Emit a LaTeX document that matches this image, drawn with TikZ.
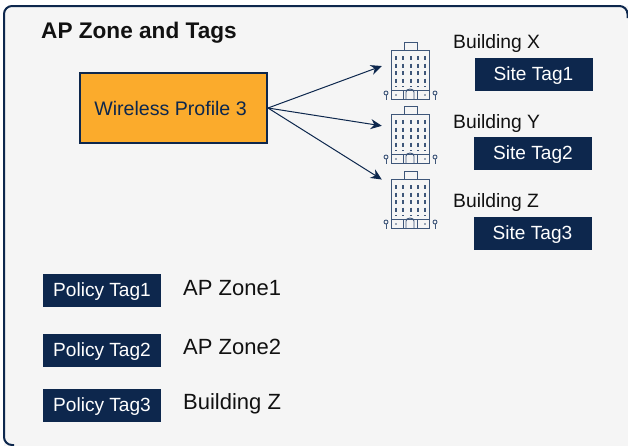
\documentclass[tikz,border=0pt]{standalone}
\usepackage{fontspec}
\setmainfont{Liberation Sans}
\usetikzlibrary{arrows.meta}
\definecolor{navy}{HTML}{0D274D}
\definecolor{icon}{HTML}{3E5679}
\definecolor{panel}{HTML}{F5F5F5}
\definecolor{amber}{HTML}{FBAB2C}
\definecolor{ink}{HTML}{111111}
\tikzset{
  x=1pt,y=-1pt,
  tagbox/.style={fill=navy,draw=none,text=white,font=\fontsize{19.1}{22}\selectfont,inner sep=0pt,anchor=center,minimum width=118pt,minimum height=33pt,text height=14pt,text depth=2pt},
  lbl/.style={text=ink,font=\fontsize{19.3}{22}\selectfont,anchor=base west,inner sep=0pt},
  zlbl/.style={text=ink,font=\fontsize{22}{25}\selectfont,anchor=base west,inner sep=0pt},
  link/.style={draw=navy,line width=1pt,-{Stealth[length=11pt,width=10pt]}},
  bldg/.style={draw=none,minimum width=56pt,minimum height=60pt,inner sep=0pt},
  bl/.style={draw=icon,line width=.9pt},
  win/.style={draw=icon,line width=1.1pt,dash pattern=on 4pt off 3.5pt},
}
\newcommand{\tower}[1]{%
  \begin{scope}[shift={(#1)}]
    \draw[bl] (-6,-29) rectangle (7,-21);
    \draw[bl] (-19,-21) rectangle (19,28);
    \draw[bl] (-19,19) -- (19,19);
    \foreach \wx in {-14,-7,1,8,15}{\draw[win] (\wx,-15) -- (\wx,16);}
    \draw[bl] (-4,28) -- (-4,21) arc[start angle=180,end angle=0,x radius=4,y radius=-3] -- (4,28);
    \draw[bl] (-7,19) -- (-7,28) (7,19) -- (7,28);
    \fill[icon] (-14,24) circle[radius=.8] (15,24) circle[radius=.8];
    \foreach \px in {-24,25}{
      \draw[bl] (\px,22) circle[radius=2];
      \draw[bl] (\px,24) -- (\px,29);
    }
  \end{scope}}
\begin{document}
\begin{tikzpicture}
\useasboundingbox (0,0) rectangle (628,445);
\fill[white] (0,0) rectangle (628,445);
\fill[panel,rounded corners=8pt] (4,6) -- (640,6) -- (640,460) -- (4,460) -- cycle;
\fill[panel] (12,440) rectangle (628,445);
\draw[draw=navy,line width=2pt,rounded corners=8pt] (14,445) -- (4,445) -- (4,6) -- (627.5,6) -- (627.5,18);
\node[anchor=base west,inner sep=0pt,text=ink,font=\fontsize{22.6}{26}\selectfont\bfseries] (title) at (41,38) {AP Zone and Tags};
\node[draw=navy,line width=2pt,fill=amber,minimum width=187pt,minimum height=70pt,inner sep=0pt] (wp) at (173.5,108) {};
\node[text=navy,font=\fontsize{19.6}{23}\selectfont,inner sep=0pt] (wpt) at (170.5,108) {Wireless Profile 3};
\node[bldg] (b1) at (410,71) {};
\node[bldg] (b2) at (410,135) {};
\node[bldg] (b3) at (410,200) {};
\tower{410,71}
\tower{410,135}
\tower{410,200}
\draw[link] (wp.east) -- (b1.170);
\draw[link] (wp.east) -- (b2.162);
\draw[link] (wp.east) -- (b3.144.5);
\node[lbl] (bx) at (453,48) {Building X};
\node[lbl] (by) at (453,128) {Building Y};
\node[lbl] (bz) at (453,207) {Building Z};
\node[tagbox] (s1) at (533.5,74.5) {Site Tag1};
\node[tagbox] (s2) at (533,153.5) {Site Tag2};
\node[tagbox] (s3) at (532.5,233) {Site Tag3};
\node[tagbox] (p1) at (102,290) {Policy Tag1};
\node[tagbox] (p2) at (102,350) {Policy Tag2};
\node[tagbox] (p3) at (102,405) {Policy Tag3};
\node[zlbl] (z1) at (183,295) {AP Zone1};
\node[zlbl] (z2) at (183,354) {AP Zone2};
\node[zlbl] (z3) at (183,409) {Building Z};
\end{tikzpicture}
\end{document}
